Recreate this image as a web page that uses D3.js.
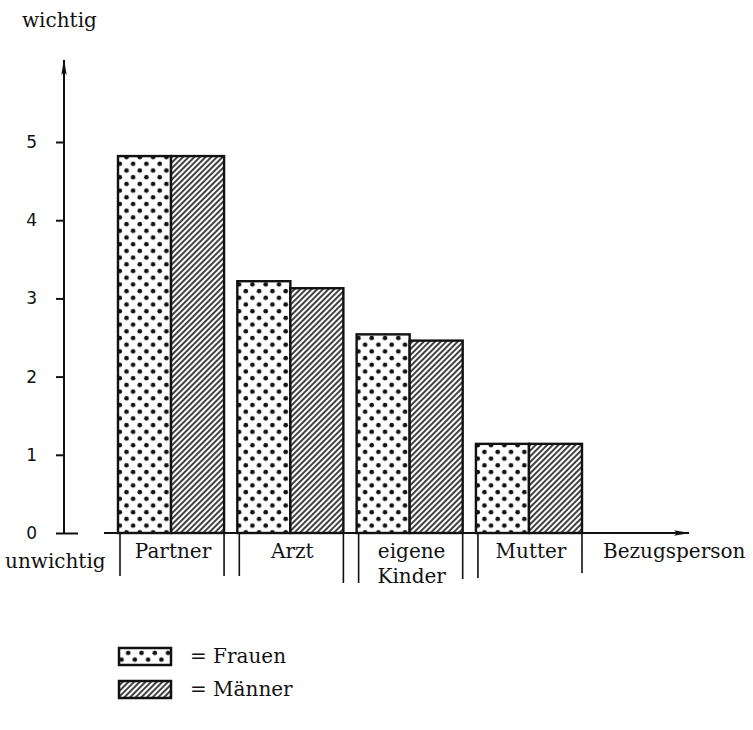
<!DOCTYPE html>
<html>
<head>
<meta charset="utf-8">
<script src="https://cdn.jsdelivr.net/npm/d3@7"></script>
<style>
  body { margin: 0; background: #fff; }
  text { font-family: "DejaVu Serif", "Liberation Serif", serif; fill: #111; }
</style>
</head>
<body>
<svg id="chart" width="753" height="730"></svg>
<script>
// Bezugspersonen: Wichtigkeit (0 = unwichtig ... 5 = wichtig)
var categories = ["Partner", "Arzt", "eigene Kinder", "Mutter"];
var series = ["Frauen", "Männer"];
var frauen = [4.82, 3.22, 2.54, 1.14];
var maenner = [4.82, 3.13, 2.46, 1.14];
var yTicks = [0, 1, 2, 3, 4, 5];
// how far the separator strokes run below the axis (left, right of each group)
var sepDepth = [[43, 43], [43, 50], [50, 46], [45, 40]];

var svg = d3.select("#chart");
var defs = svg.append("defs");

// dotted pattern (Frauen)
var dots = defs.append("pattern")
  .attr("id", "dots")
  .attr("patternUnits", "userSpaceOnUse")
  .attr("width", 13.3).attr("height", 13.4)
  .attr("x", 118).attr("y", 0);
dots.append("rect").attr("width", 13.3).attr("height", 13.4).attr("fill", "#fff");
dots.append("circle").attr("cx", 3.5).attr("cy", 3).attr("r", 2.3).attr("fill", "#111");
dots.append("circle").attr("cx", 10.2).attr("cy", 9.7).attr("r", 2.3).attr("fill", "#111");

// hatched pattern (Männer)
var hatch = defs.append("pattern")
  .attr("id", "hatch")
  .attr("patternUnits", "userSpaceOnUse")
  .attr("width", 4).attr("height", 4)
  .attr("patternTransform", "rotate(45)");
hatch.append("rect").attr("width", 4).attr("height", 4).attr("fill", "#fff");
hatch.append("line").attr("x1", 1).attr("y1", 0).attr("x2", 1).attr("y2", 4)
  .attr("stroke", "#111").attr("stroke-width", 1.6);

var fills = {"Frauen": "url(#dots)", "Männer": "url(#hatch)"};

var x = d3.scaleBand().domain(categories).range([118, 582]).paddingInner(0.111).paddingOuter(0);
var xs = d3.scaleBand().domain(series).range([0, x.bandwidth()]);
var y = d3.scaleLinear().domain([0, 5]).range([533, 142]);

var axisX = 64;

// arrow marker
defs.append("marker")
  .attr("id", "arrow")
  .attr("viewBox", "0 0 16 8")
  .attr("refX", 15).attr("refY", 4)
  .attr("markerWidth", 16).attr("markerHeight", 8)
  .attr("markerUnits", "userSpaceOnUse")
  .attr("orient", "auto")
  .append("path").attr("d", "M0,1.3 L16,4 L0,6.7 L3,4 Z").attr("fill", "#111");

// bars
var rows = categories.map(function(c, i) {
  return {cat: c, vals: [{s: "Frauen", v: frauen[i]}, {s: "Männer", v: maenner[i]}]};
});
var g = svg.selectAll("g.group").data(rows).enter()
  .append("g").attr("class", "group")
  .attr("transform", d => "translate(" + x(d.cat) + ",0)");
g.selectAll("rect").data(d => d.vals).enter()
  .append("rect")
  .attr("x", d => xs(d.s))
  .attr("y", d => y(d.v))
  .attr("width", xs.bandwidth())
  .attr("height", d => y(0) - y(d.v))
  .attr("fill", d => fills[d.s])
  .attr("stroke", "#111")
  .attr("stroke-width", 2.4);

// separators below x axis
categories.forEach(function(c, i) {
  [x(c) + 2, x(c) + x.bandwidth()].forEach(function(px, k) {
    svg.append("line")
      .attr("x1", px).attr("x2", px)
      .attr("y1", y(0)).attr("y2", y(0) + sepDepth[i][k])
      .attr("stroke", "#111").attr("stroke-width", 1.6);
  });
});

// y axis
var yAxis = svg.append("g")
  .attr("transform", "translate(" + axisX + ",0)")
  .call(d3.axisLeft(y).tickValues(yTicks).tickSize(8).tickPadding(19).tickFormat(d3.format("d")));
yAxis.select(".domain").remove();
yAxis.selectAll(".tick line").attr("stroke", "#111").attr("stroke-width", 2);
yAxis.selectAll(".tick text")
  .style("font-family", "'DejaVu Sans', sans-serif")
  .style("font-size", "17px")
  .attr("fill", "#111");
// zero tick reaches across the axis
yAxis.selectAll(".tick").filter(d => d === 0).select("line").attr("x1", 14);
svg.append("line")
  .attr("x1", axisX).attr("x2", axisX)
  .attr("y1", y(0)).attr("y2", 60)
  .attr("stroke", "#111").attr("stroke-width", 2)
  .attr("marker-end", "url(#arrow)");

// x axis
svg.append("line")
  .attr("x1", 104).attr("x2", 689)
  .attr("y1", y(0)).attr("y2", y(0))
  .attr("stroke", "#111").attr("stroke-width", 2.2)
  .attr("marker-end", "url(#arrow)");

// category labels
categories.forEach(function(c) {
  var parts = c.split(" ");
  parts.forEach(function(p, j) {
    svg.append("text")
      .attr("x", x(c) + x.bandwidth() / 2 + 2)
      .attr("y", 558 + j * 25)
      .attr("text-anchor", "middle")
      .style("font-size", "20px")
      .text(p);
  });
});

svg.append("text").attr("x", 603).attr("y", 558).style("font-size", "20px").text("Bezugsperson");
svg.append("text").attr("x", 22).attr("y", 27).style("font-size", "20px").text("wichtig");
svg.append("text").attr("x", 5).attr("y", 568).style("font-size", "20px").text("unwichtig");

// legend
series.forEach(function(s, i) {
  var ly = 648 + i * 33;
  svg.append("rect")
    .attr("x", 119).attr("y", ly)
    .attr("width", 52).attr("height", 17)
    .attr("fill", fills[s])
    .attr("stroke", "#111").attr("stroke-width", 2.5);
  svg.append("text")
    .attr("x", 190).attr("y", ly + 15)
    .style("font-size", "20px")
    .text("=  " + s);
});
</script>
</body>
</html>
